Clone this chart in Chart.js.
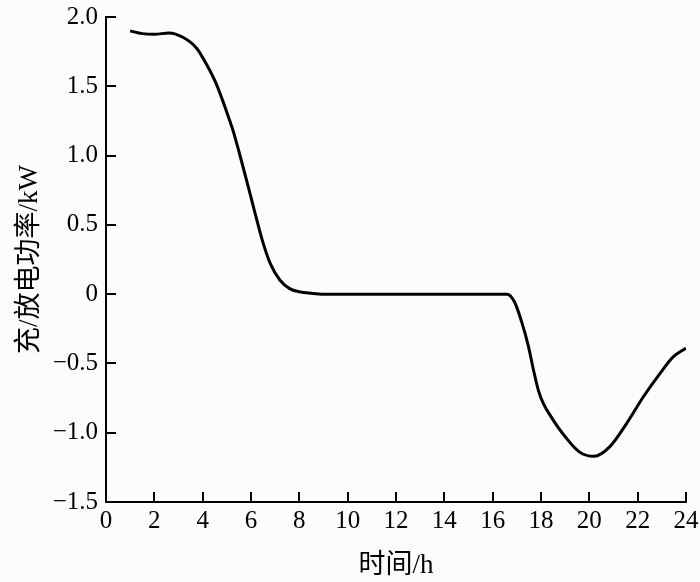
<!DOCTYPE html>
<html>
<head>
<meta charset="utf-8">
<script src="https://cdn.jsdelivr.net/npm/chart.js@4.4.3/dist/chart.umd.min.js"></script>
<style>
	html, body { margin: 0; padding: 0; background: #fcfcfc; }
	#wrap { width: 700px; height: 582px; position: relative; }
</style>
</head>
<body>
<div id="wrap"><canvas id="power-chart"></canvas></div>
<script>
// Charge / discharge power over the day.
var hours = [1, 1.5, 2, 2.6, 3.2, 3.75, 4.17, 4.58, 4.99, 5.27, 5.54, 5.85, 6.1, 6.5, 6.8, 7.2, 7.6, 8, 8.5, 9, 10, 12, 14, 16, 16.6, 16.9, 17.2, 17.47, 17.68, 17.9, 18.1, 18.4, 18.85, 19.6, 20.2, 20.85, 21.54, 22.23, 22.92, 23.47, 24];
var power = [1.90, 1.88, 1.875, 1.885, 1.852, 1.775, 1.655, 1.51, 1.317, 1.173, 1.004, 0.80, 0.63, 0.37, 0.22, 0.10, 0.04, 0.017, 0.006, 0, 0, 0, 0, 0, 0, -0.055, -0.20, -0.37, -0.54, -0.70, -0.79, -0.88, -0.995, -1.14, -1.17, -1.10, -0.934, -0.742, -0.573, -0.453, -0.39];

var xTicks = [0, 2, 4, 6, 8, 10, 12, 14, 16, 18, 20, 22, 24];
var yTicks = [-1.5, -1.0, -0.5, 0, 0.5, 1.0, 1.5, 2.0];

var xTitle = '时间/h';
var yTitle = '充/放电功率/kW';

var serif = '"Liberation Serif", "Noto Sans CJK SC", serif';

// Ticks in this chart point into the plot area, so draw them ourselves.
var inwardTicks = {
	id: 'inwardTicks',
	afterDraw: function (chart) {
		var ctx = chart.ctx;
		var area = chart.chartArea;
		var xs = chart.scales.x;
		var ys = chart.scales.y;
		ctx.save();
		ctx.strokeStyle = '#000';
		ctx.lineWidth = 2;
		ctx.beginPath();
		xTicks.forEach(function (v) {
			var px = Math.round(xs.getPixelForValue(v));
			ctx.moveTo(px, area.bottom);
			ctx.lineTo(px, area.bottom - 10);
		});
		yTicks.forEach(function (v) {
			var py = Math.round(ys.getPixelForValue(v));
			ctx.moveTo(area.left, py);
			ctx.lineTo(area.left + 10, py);
		});
		ctx.stroke();
		ctx.restore();
	}
};

function fmtY(v) {
	if (v === 0) return '0';
	var s = Math.abs(v).toFixed(1);
	return v < 0 ? '\u2212' + s : s;
}

new Chart(document.getElementById('power-chart'), {
	type: 'line',
	data: {
		datasets: [{
			data: hours.map(function (h, i) { return { x: h, y: power[i] }; }),
			borderColor: '#000',
			borderWidth: 3,
			pointRadius: 0,
			cubicInterpolationMode: 'monotone',
			fill: false
		}]
	},
	options: {
		responsive: true,
		maintainAspectRatio: false,
		animation: false,
		layout: { padding: { top: 17, right: 14, left: 0, bottom: 0 } },
		plugins: {
			legend: { display: false },
			tooltip: { enabled: false }
		},
		scales: {
			x: {
				type: 'linear',
				min: 0,
				max: 24,
				afterBuildTicks: function (axis) {
					axis.ticks = xTicks.map(function (v) { return { value: v }; });
				},
				ticks: {
					color: '#000',
					font: { family: serif, size: 25 },
					padding: 4,
					maxRotation: 0,
					autoSkip: false
				},
				grid: { display: false, drawTicks: false },
				border: { display: true, color: '#000', width: 2 },
				title: {
					display: true,
					text: xTitle,
					color: '#000',
					font: { family: serif, size: 27 },
					padding: { top: 6, bottom: 0 }
				},
				afterFit: function (axis) {
					axis.height = 80;
					axis.paddingLeft = 0;
					axis.paddingRight = 0;
				}
			},
			y: {
				min: -1.5,
				max: 2.0,
				afterBuildTicks: function (axis) {
					axis.ticks = yTicks.map(function (v) { return { value: v }; });
				},
				ticks: {
					color: '#000',
					font: { family: serif, size: 25 },
					padding: 8,
					autoSkip: false,
					callback: function (v) { return fmtY(v); }
				},
				grid: { display: false, drawTicks: false },
				border: { display: true, color: '#000', width: 2 },
				title: {
					display: true,
					text: yTitle,
					color: '#000',
					font: { family: serif, size: 27 },
					padding: { top: 14, bottom: 0 }
				},
				afterFit: function (axis) {
					axis.width = 106;
					axis.paddingTop = 0;
					axis.paddingBottom = 0;
				}
			}
		}
	},
	plugins: [inwardTicks]
});
</script>
</body>
</html>
